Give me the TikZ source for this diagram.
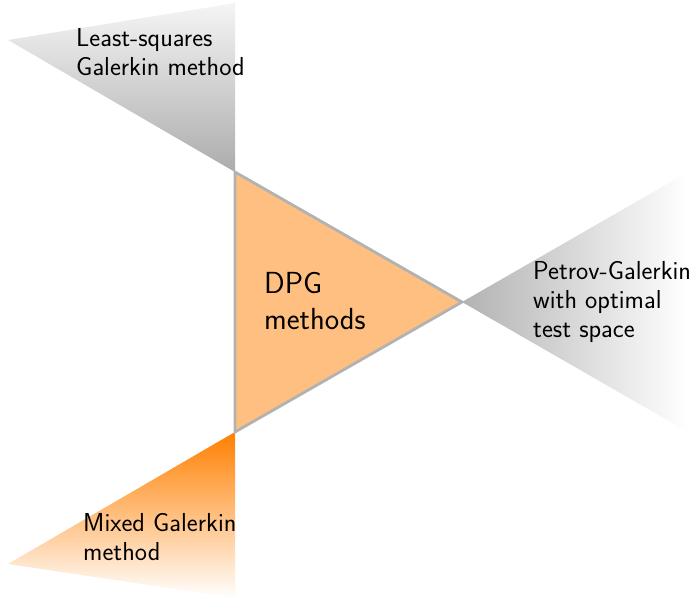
\documentclass[tikz,border=0pt]{standalone}
\usepackage{fontspec}

\begin{document}
\begin{tikzpicture}[x=1pt,y=-1pt,
    small_text/.style={anchor=base west,align=left,inner sep=0pt,font=\sffamily\fontsize{26}{28.7}\selectfont},
    big_text/.style={anchor=base west,align=left,inner sep=0pt,font=\sffamily\fontsize{30.5}{36}\selectfont}]

    \useasboundingbox (0,0) rectangle (694,598);

    \coordinate (dpg_top) at (235,172);
    \coordinate (dpg_bot) at (235,432);
    \coordinate (dpg_right) at (462,302);

    \coordinate (ls_tip) at (8,40);
    \coordinate (ls_top) at (235,3);
    \coordinate (pg_up) at (688,172);
    \coordinate (pg_down) at (688,432);
    \coordinate (mg_tip) at (8,564);
    \coordinate (mg_bot) at (235,598);

    \shade[top color=gray!8,bottom color=gray!65] (dpg_top) -- (ls_tip) -- (ls_top) -- cycle;
    \shade[left color=gray!60,right color=white] (dpg_right) -- (pg_up) -- (pg_down) -- cycle;
    \shade[top color=orange,bottom color=white] (dpg_bot) -- (mg_tip) -- (mg_bot) -- cycle;

    \draw[gray!60,line width=2.8pt,fill=orange!50,line join=miter] (dpg_top) -- (dpg_right) -- (dpg_bot) -- cycle;

    \node[big_text] (dpg) at (264,329) {DPG\\methods};
    \node[small_text] (ls) at (76,75) {Least-squares\\Galerkin method};
    \node[small_text] (pg) at (533,337) {Petrov-Galerkin\\with optimal\\test space};
    \node[small_text] (mg) at (83,560) {Mixed Galerkin\\method};
\end{tikzpicture}
\end{document}
